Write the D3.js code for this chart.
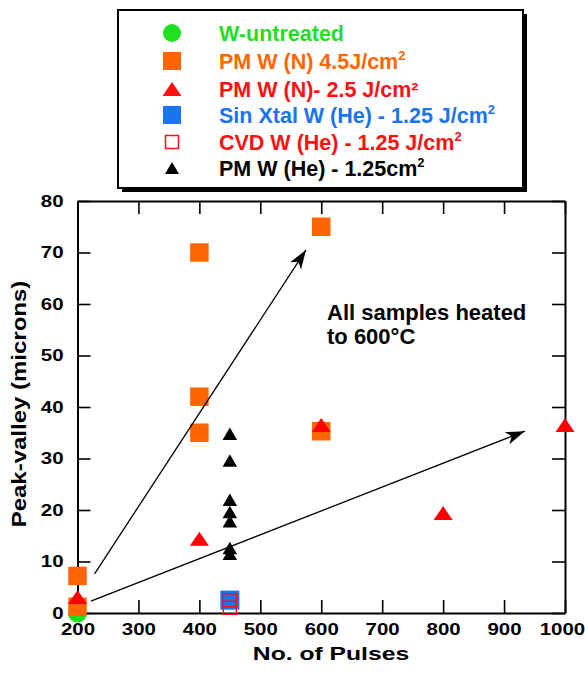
<!DOCTYPE html>
<html>
<head>
<meta charset="utf-8">
<script src="https://cdn.jsdelivr.net/npm/d3@7/dist/d3.min.js"></script>
<style>
body { margin: 0; background: #fff; }
text { font-family: "Liberation Sans", Arial, Helvetica, sans-serif; font-weight: bold; }
</style>
</head>
<body>
<svg id="chart" width="585" height="675"></svg>
<script>
// data
var untreatedX = [200];
var untreatedY = [0];
var pmN45X = [200, 200, 400, 400, 400, 600, 600];
var pmN45Y = [7.2, 1.2, 70, 42, 35, 75, 35.3];
var pmN25X = [200, 400, 600, 800, 1000];
var pmN25Y = [3.1, 14.4, 36.5, 19.4, 36.5];
var sinXtalX = [450];
var sinXtalY = [2.5];
var cvdX = [450, 450];
var cvdY = [2.5, 1];
var pmHeX = [450, 450, 450, 450, 450, 450, 450];
var pmHeY = [34.8, 29.6, 22, 19.6, 17.8, 12.6, 11.5];

var xTicks = [200, 300, 400, 500, 600, 700, 800, 900, 1000];
var yTicks = [0, 10, 20, 30, 40, 50, 60, 70, 80];

// trend arrows, in data units
var arrowFrom = [[228, 7.6], [222, 2.3]];
var arrowTo = [[575, 70.5], [934, 35.3]];

var legendLabels = ["W-untreated", "PM W (N) 4.5J/cm", "PM W (N)- 2.5 J/cm\u00b2",
                    "Sin Xtal W (He) - 1.25 J/cm", "CVD W (He) - 1.25 J/cm", "PM W (He) - 1.25cm"];
var legendSup = [false, true, false, true, true, true];
var legendColors = ["#1ee01e", "#ff6600", "#ff1010", "#1a73f0", "#ff1010", "#000000"];

var svg = d3.select("#chart");

var x = d3.scaleLinear().domain([200, 1000]).range([77.5, 565]);
var y = d3.scaleLinear().domain([0, 80]).range([613, 201]);

var minorX = d3.range(200, 1001, 20);
var minorY = d3.range(0, 81, 2);

// bottom axis
var gb = svg.append("g").attr("transform", "translate(0," + y(0) + ")");
gb.call(d3.axisBottom(x).tickValues(minorX).tickSize(-7).tickSizeOuter(0).tickFormat(""));
gb.call(d3.axisBottom(x).tickValues(xTicks).tickSize(-13).tickSizeOuter(0).tickPadding(10).tickFormat(d3.format("d")));
gb.selectAll(".tick text").style("font-size", "16.5px").attr("fill", "#000")
  .attr("transform", "scale(1.24,1)")
  .attr("x", function(d) { return d === 1000 ? -2.5 : 0; });   // keep the last label inside the page

// top axis
var gt = svg.append("g").attr("transform", "translate(0," + y(80) + ")");
gt.call(d3.axisTop(x).tickValues(minorX).tickSize(-7).tickSizeOuter(0).tickFormat(""));
gt.call(d3.axisTop(x).tickValues(xTicks).tickSize(-13).tickSizeOuter(0).tickFormat(""));

// left axis
var gl = svg.append("g").attr("transform", "translate(" + x(200) + ",0)");
gl.call(d3.axisLeft(y).tickValues(minorY).tickSize(-7).tickSizeOuter(0).tickFormat(""));
gl.call(d3.axisLeft(y).tickValues(yTicks).tickSize(-13).tickSizeOuter(0).tickPadding(14).tickFormat(d3.format("d")));
gl.selectAll(".tick text").style("font-size", "16.5px").attr("fill", "#000")
  .attr("transform", "scale(1.24,1)").attr("x", -14 / 1.24);

// right axis
var gr = svg.append("g").attr("transform", "translate(" + x(1000) + ",0)");
gr.call(d3.axisRight(y).tickValues(minorY).tickSize(-7).tickSizeOuter(0).tickFormat(""));
gr.call(d3.axisRight(y).tickValues(yTicks).tickSize(-13).tickSizeOuter(0).tickFormat(""));

svg.selectAll(".domain").attr("stroke", "#000").attr("stroke-width", 2);
svg.selectAll(".tick line").attr("stroke", "#000").attr("stroke-width", 1.6);

// axis titles
svg.append("text")
    .attr("transform", "translate(331,660) scale(1.3,1)")
    .attr("text-anchor", "middle")
    .style("font-size", "19px")
    .text("No. of Pulses");

svg.append("text")
    .attr("transform", "translate(26,404) rotate(-90) scale(1.2,1)")
    .attr("text-anchor", "middle")
    .style("font-size", "20px")
    .text("Peak-valley (microns)");

// marker shapes
function tri(w, h) {
    return "M0," + (-h / 2) + "L" + (w / 2) + "," + (h / 2) + "L" + (-w / 2) + "," + (h / 2) + "Z";
}
function sq(s) {
    return "M" + (-s / 2) + "," + (-s / 2) + "h" + s + "v" + s + "h" + (-s) + "Z";
}

function plotSeries(xs, ys, pathD, fill, stroke, sw) {
    svg.append("g").selectAll("path")
        .data(xs.map(function(d, i) { return {x: d, y: ys[i]}; }))
        .enter()
        .append("path")
        .attr("d", pathD)
        .attr("transform", function(d) { return "translate(" + x(d.x) + "," + y(d.y) + ")"; })
        .attr("fill", fill)
        .attr("stroke", stroke || "none")
        .attr("stroke-width", sw || 0);
}

svg.append("g").selectAll("circle")
    .data(untreatedX.map(function(d, i) { return {x: d, y: untreatedY[i]}; }))
    .enter()
    .append("circle")
    .attr("cx", function(d) { return x(d.x); })
    .attr("cy", function(d) { return y(d.y); })
    .attr("r", 9.5)
    .attr("fill", legendColors[0]);

plotSeries(pmN45X, pmN45Y, sq(18.5), "#ff6600");
plotSeries(pmN25X, pmN25Y, tri(19, 14), "#ff0000");
plotSeries(sinXtalX, sinXtalY, sq(19), "#1a73f0");
plotSeries(cvdX, cvdY, sq(13), "none", "#ff1010", 1.5);
plotSeries(pmHeX, pmHeY, tri(14.5, 12.5), "#000");

// arrows
var defs = svg.append("defs");
defs.append("marker")
    .attr("id", "head")
    .attr("markerUnits", "userSpaceOnUse")
    .attr("viewBox", "-20 -8 22 16")
    .attr("markerWidth", 22)
    .attr("markerHeight", 16)
    .attr("refX", 0)
    .attr("refY", 0)
    .attr("orient", "auto")
    .append("path")
    .attr("d", "M0,0L-19,-6.5L-14,0L-19,6.5Z")
    .attr("fill", "#000");

svg.append("g").selectAll("line")
    .data(arrowFrom.map(function(d, i) { return [d, arrowTo[i]]; }))
    .enter()
    .append("line")
    .attr("x1", function(d) { return x(d[0][0]); })
    .attr("y1", function(d) { return y(d[0][1]); })
    .attr("x2", function(d) { return x(d[1][0]); })
    .attr("y2", function(d) { return y(d[1][1]); })
    .attr("stroke", "#000")
    .attr("stroke-width", 1.3)
    .attr("marker-end", "url(#head)");

// note
var note = svg.append("text").style("font-size", "22px").attr("fill", "#000");
note.append("tspan").attr("x", 327).attr("y", 320).text("All samples heated");
note.append("tspan").attr("x", 327).attr("y", 344).text("to 600\u00b0C");

// legend
var lg = svg.append("g");
lg.append("rect").attr("x", 122).attr("y", 14).attr("width", 405).attr("height", 178).attr("fill", "#000");
lg.append("rect").attr("x", 118).attr("y", 10).attr("width", 405).attr("height", 178)
    .attr("fill", "#fff").attr("stroke", "#000").attr("stroke-width", 2);

var rowY = [33, 61, 89, 115, 142, 168];
var legendShapes = [null, sq(18), tri(19, 14), sq(18), sq(13), tri(14, 12)];

lg.append("circle").attr("cx", 172).attr("cy", rowY[0]).attr("r", 9).attr("fill", legendColors[0]);
legendShapes.forEach(function(s, i) {
    if (!s) return;
    lg.append("path")
        .attr("d", s)
        .attr("transform", "translate(172," + rowY[i] + ")")
        .attr("fill", i === 4 ? "#fff" : legendColors[i])
        .attr("stroke", i === 4 ? "#ff1010" : "none")
        .attr("stroke-width", i === 4 ? 1.5 : 0);
});

legendLabels.forEach(function(lab, i) {
    var t = lg.append("text")
        .attr("x", 219)
        .attr("y", rowY[i] + 7.5)
        .attr("fill", legendColors[i])
        .style("font-size", "21.5px")
        .text(lab);
    if (legendSup[i]) {
        t.append("tspan").attr("dy", -9).style("font-size", "13px").text("2");
    }
});
</script>
</body>
</html>
